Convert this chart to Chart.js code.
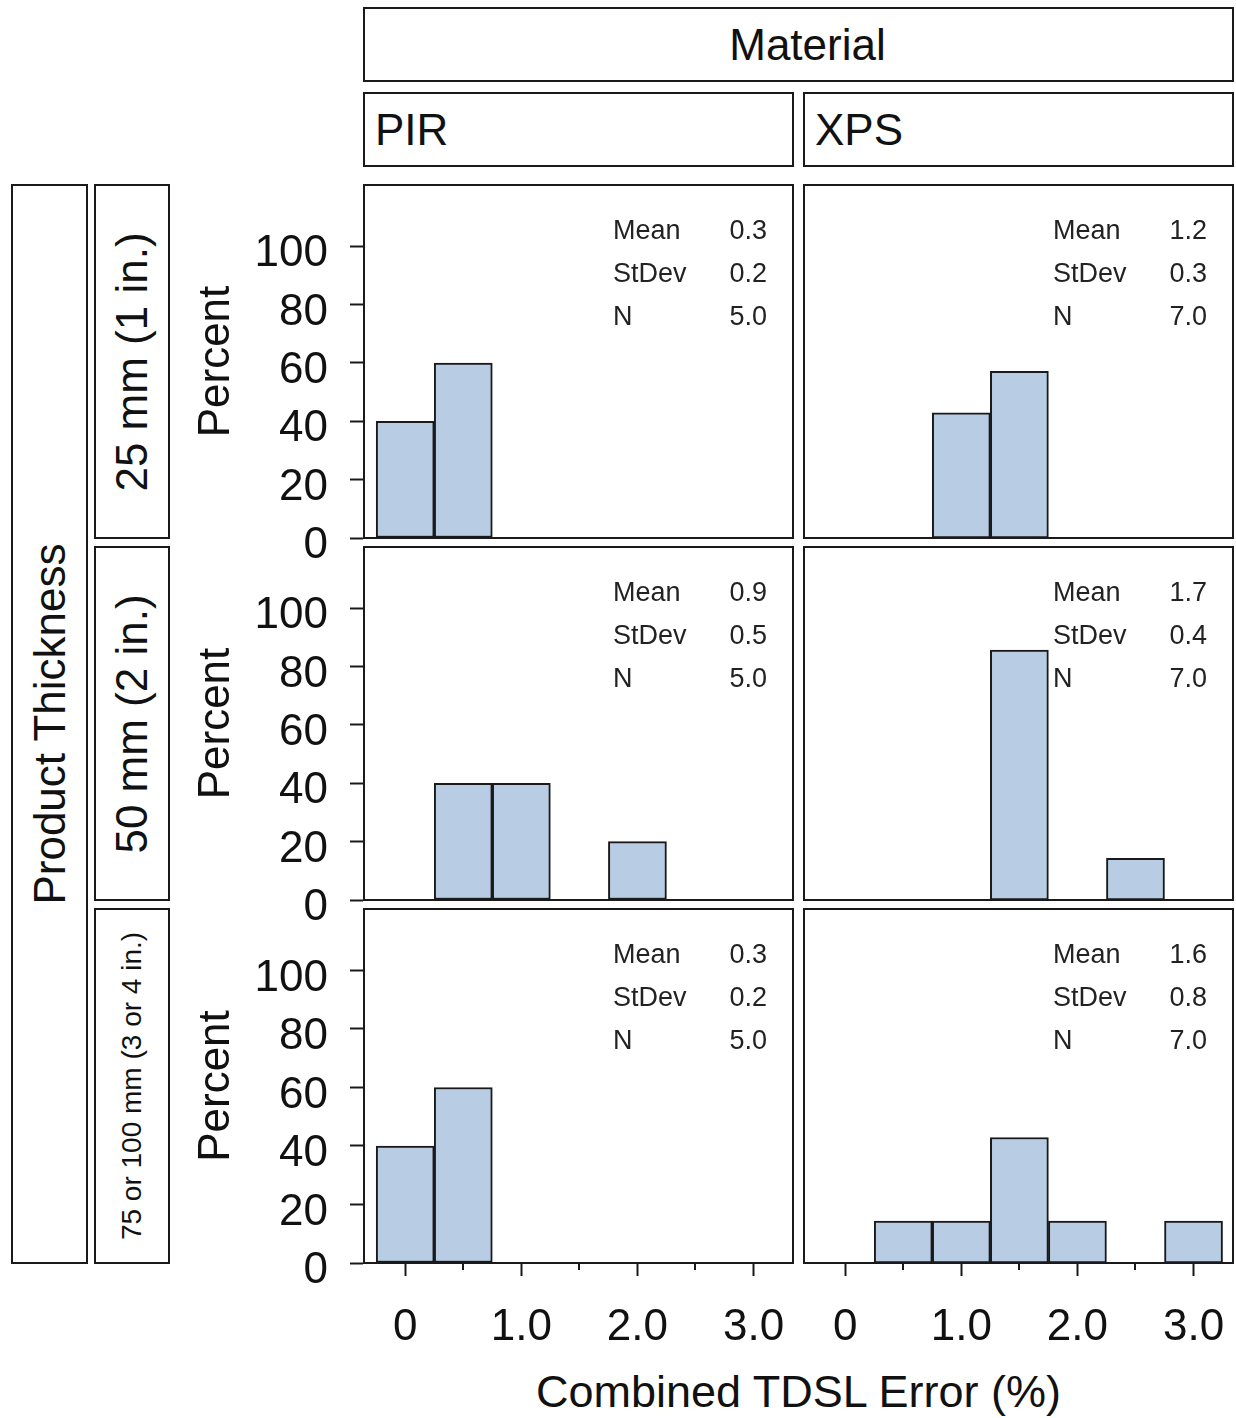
<!DOCTYPE html>
<html>
<head>
<meta charset="utf-8">
<script src="https://cdn.jsdelivr.net/npm/chart.js@4.4.1/dist/chart.umd.min.js"></script>
<style>
  body { margin: 0; background: #fff; font-family: "Liberation Sans", Arial, sans-serif; color: #111; }
  #page { position: relative; width: 1236px; height: 1418px; overflow: hidden; }
  .box { position: absolute; box-sizing: border-box; border: 2px solid #1a1a1a; display: flex; align-items: center; font-size: 44px; white-space: nowrap; }
  .center { justify-content: center; }
  .vert span { display: inline-block; transform: rotate(-90deg); }
  canvas { position: absolute; }
  #xtitle { position: absolute; left: 364px; top: 1366px; width: 869px; height: 52px; line-height: 52px; text-align: center; font-size: 45px; }
</style>
</head>
<body>
<div id="page">
  <div class="box center" style="left:363px;top:7px;width:871px;height:75px;padding-left:18px;">Material</div>
  <div class="box" style="left:363px;top:92px;width:431px;height:75px;padding-left:10px;">PIR</div>
  <div class="box" style="left:803px;top:92px;width:431px;height:75px;padding-left:10px;">XPS</div>

  <div class="box center vert" style="left:11px;top:184px;width:77px;height:1080px;"><span>Product Thickness</span></div>
  <div class="box center vert" style="left:94px;top:184px;width:76px;height:355px;"><span>25 mm (1 in.)</span></div>
  <div class="box center vert" style="left:94px;top:546px;width:76px;height:355px;"><span>50 mm (2 in.)</span></div>
  <div class="box center vert" style="left:94px;top:908px;width:76px;height:356px;font-size:28px;"><span>75 or 100 mm (3 or 4 in.)</span></div>

  <canvas id="pir25" width="620" height="453" style="left:180px;top:135px;"></canvas>
  <canvas id="xps25" width="439" height="453" style="left:797px;top:135px;"></canvas>
  <canvas id="pir50" width="620" height="453" style="left:180px;top:497px;"></canvas>
  <canvas id="xps50" width="439" height="453" style="left:797px;top:497px;"></canvas>
  <canvas id="pir75" width="620" height="504" style="left:180px;top:859px;"></canvas>
  <canvas id="xps75" width="439" height="504" style="left:797px;top:859px;"></canvas>

  <div id="xtitle">Combined TDSL Error (%)</div>
</div>

<script>
// histogram bins (percent of runs), bin width 0.5
const binCenters = [0, 0.5, 1.0, 1.5, 2.0, 2.5, 3.0];
const xTickLabels = ['0', '', '1.0', '', '2.0', '', '3.0'];
const yTickValues = [0, 20, 40, 60, 80, 100];

const pir25 = [40, 60, 0, 0, 0, 0, 0];
const xps25 = [0, 0, 42.9, 57.1, 0, 0, 0];
const pir50 = [0, 40, 40, 0, 20, 0, 0];
const xps50 = [0, 0, 0, 85.7, 0, 14.3, 0];
const pir75 = [40, 60, 0, 0, 0, 0, 0];
const xps75 = [0, 14.3, 14.3, 42.9, 14.3, 0, 14.3];

const statNames = ['Mean', 'StDev', 'N'];
const pir25Stats = ['0.3', '0.2', '5.0'];
const xps25Stats = ['1.2', '0.3', '7.0'];
const pir50Stats = ['0.9', '0.5', '5.0'];
const xps50Stats = ['1.7', '0.4', '7.0'];
const pir75Stats = ['0.3', '0.2', '5.0'];
const xps75Stats = ['1.6', '0.8', '7.0'];

const FONT = '"Liberation Sans", Arial, sans-serif';
const INK = '#1a1a1a';
Chart.defaults.font.family = FONT;
Chart.defaults.color = '#111';

// frame round the plot area, the stats box and the short minor ticks
const panelFrame = {
  id: 'panelFrame',
  afterDatasetsDraw(chart, args, opts) {
    const { ctx, chartArea: a } = chart;
    ctx.save();
    ctx.strokeStyle = INK;
    ctx.lineWidth = 2;
    ctx.strokeRect(a.left, a.top, a.right - a.left, a.bottom - a.top);

    ctx.fillStyle = '#222';
    ctx.font = '27px ' + FONT;
    opts.stats.forEach((v, i) => {
      const y = a.top + 54 + i * 43;
      ctx.textAlign = 'left';
      ctx.fillText(statNames[i], a.left + 249, y);
      ctx.textAlign = 'right';
      ctx.fillText(v, a.right - 26, y);
    });

    if (opts.minorTicks) {
      const sx = chart.scales.x;
      sx.ticks.forEach((t, i) => {
        if (xTickLabels[i]) return;
        const px = Math.round(sx.getPixelForValue(t.value));
        ctx.beginPath();
        ctx.moveTo(px, a.bottom);
        ctx.lineTo(px, a.bottom + 7);
        ctx.stroke();
      });
    }
    ctx.restore();
  }
};

function makePanel(id, values, stats, showY, showX) {
  new Chart(document.getElementById(id), {
    type: 'bar',
    data: {
      datasets: [{
        data: binCenters.map((x, i) => ({ x: x, y: values[i] })),
        backgroundColor: '#b8cce4',
        borderColor: INK,
        borderWidth: 2,
        borderSkipped: false,
        barPercentage: 1,
        categoryPercentage: 1
      }]
    },
    options: {
      responsive: false,
      animation: false,
      layout: {
        padding: { left: showY ? 0 : 7, right: showY ? 7 : 3, top: 50, bottom: showX ? 0 : 50 }
      },
      plugins: {
        legend: { display: false },
        tooltip: { enabled: false },
        panelFrame: { stats: stats, minorTicks: showX }
      },
      scales: {
        x: {
          type: 'linear',
          min: -0.355,
          max: 3.34,
          offset: false,
          display: showX,
          afterBuildTicks: s => { s.ticks = binCenters.map(v => ({ value: v })); },
          afterFit: s => { if (showX) s.height = 100; },
          ticks: {
            autoSkip: false,
            maxRotation: 0,
            padding: 0,
            font: { size: 44, lineHeight: 2.35 },
            callback: (v, i) => xTickLabels[i]
          },
          grid: {
            drawOnChartArea: false,
            offset: false,
            tickLength: 13,
            tickWidth: 2,
            tickColor: c => xTickLabels[c.index] ? INK : 'rgba(0,0,0,0)'
          },
          border: { color: INK, width: 2 }
        },
        y: {
          min: 0,
          max: 121,
          display: showY,
          afterBuildTicks: s => { s.ticks = yTickValues.map(v => ({ value: v })); },
          afterFit: s => { if (showY) s.width = 184; },
          ticks: { padding: 22, labelOffset: 8, font: { size: 44 } },
          grid: { drawOnChartArea: false, tickLength: 14, tickWidth: 2, tickColor: INK },
          border: { color: INK, width: 2 },
          title: {
            display: true,
            text: 'Percent',
            font: { size: 44 },
            padding: { top: 10, bottom: 0 }
          }
        }
      }
    },
    plugins: [panelFrame]
  });
}

makePanel('pir25', pir25, pir25Stats, true, false);
makePanel('xps25', xps25, xps25Stats, false, false);
makePanel('pir50', pir50, pir50Stats, true, false);
makePanel('xps50', xps50, xps50Stats, false, false);
makePanel('pir75', pir75, pir75Stats, true, true);
makePanel('xps75', xps75, xps75Stats, false, true);
</script>
</body>
</html>
